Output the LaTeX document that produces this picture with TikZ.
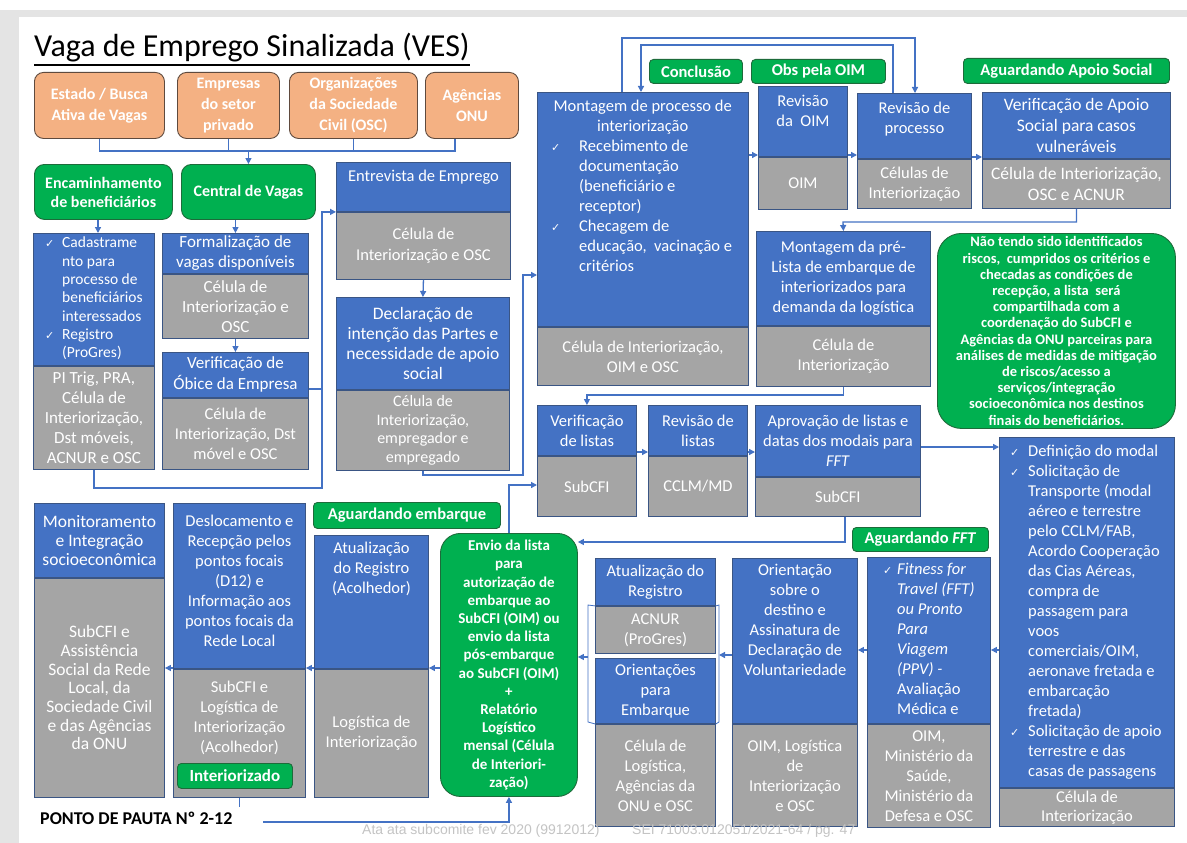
\documentclass[tikz,border=0pt]{standalone}
\usepackage{fontspec}
\setmainfont{Carlito}
\newfontfamily\ckfont{DejaVu Sans}
\newfontfamily\wmfont{Liberation Sans}
\usetikzlibrary{arrows.meta}
\definecolor{bblue}{HTML}{4472C4}
\definecolor{bgray}{HTML}{A5A5A5}
\definecolor{bord}{HTML}{3A5584}
\definecolor{gfill}{HTML}{00B050}
\definecolor{gbord}{HTML}{1D6B3A}
\definecolor{ofill}{HTML}{F4B183}
\definecolor{obord}{HTML}{5E4A3E}
\definecolor{lnc}{HTML}{4472C4}
\definecolor{marg}{HTML}{E4E4E4}
\definecolor{wm}{HTML}{C4C4C4}
\newcommand{\ck}[1]{\makebox[#1][l]{{\ckfont\fontsize{11}{11}\selectfont ✓}}}
\newcommand{\pbox}[6]{%
  \node[bbox, minimum width=#4, minimum height=#5] (#1) at (#2,#3) {};
  \node[gbox, minimum width=#4, minimum height=#6] (#1g) at (#1.south west) {};
}
\tikzset{
  bbox/.style={rectangle, draw=bord, line width=0.9pt, fill=bblue, inner sep=0pt, anchor=north west},
  gbox/.style={bbox, fill=bgray},
  tx/.style={text=white, align=center, inner sep=0pt, font=\fontsize{16.5}{20}\selectfont},
  tl/.style={tx, align=left, anchor=north west},
  lab/.style={rectangle, rounded corners=4pt, draw=gbord, line width=0.9pt, fill=gfill, text=white, align=center, inner sep=0pt, anchor=north west, font=\bfseries\fontsize{16.5}{19}\selectfont},
  org/.style={rectangle, rounded corners=9pt, draw=obord, line width=0.9pt, fill=ofill, text=white, align=center, inner sep=0pt, anchor=north west, font=\bfseries\fontsize{16}{21}\selectfont},
  conn/.style={draw=lnc, line width=1.3pt},
  arr/.style={conn, -{Triangle[length=6pt,width=6pt]}},
  wmk/.style={anchor=base west, inner sep=0pt, text=wm, font=\wmfont\fontsize{14}{14}\selectfont},
}
\begin{document}
\begin{tikzpicture}[x=1pt,y=-1pt]
\useasboundingbox (0,0) rectangle (1187,843);
\fill[white] (0,0) rectangle (1187,843);
\fill[marg] (0,10) rectangle (1187,17);
\fill[marg] (0,10) rectangle (19,843);

% title
\node[anchor=base west, inner sep=0pt, font=\fontsize{32}{38}\selectfont] (title) at (34,57) {Vaga de Emprego Sinalizada (VES)};
\draw[line width=1.7pt] ([yshift=-2pt]title.south west) -- ([yshift=-2pt]title.south east);

% orange sources
\node[org, minimum width=130, minimum height=66] (o1) at (34,72) {Estado / Busca\\Ativa de Vagas};
\node[org, minimum width=102, minimum height=66] (o2) at (177,72) {Empresas\\do setor\\privado};
\node[org, minimum width=128, minimum height=66] (o3) at (289,72) {Organizações\\da Sociedade\\Civil (OSC)};
\node[org, minimum width=93, minimum height=66] (o4) at (425,72) {Agências\\ONU};

% green headers
\node[lab, rounded corners=10pt, minimum width=138, minimum height=55, font=\bfseries\fontsize{16}{19}\selectfont] (enc) at (34,164) {Encaminhamento\\de beneficiários};
\node[lab, rounded corners=10pt, minimum width=134, minimum height=55, font=\bfseries\fontsize{16}{19}\selectfont] (cv) at (181,164) {Central de Vagas};
\node[lab, minimum width=93, minimum height=24] (lcon) at (649,59) {Conclusão};
\node[lab, minimum width=134, minimum height=24] (lobs) at (751,59) {Obs pela OIM};
\node[lab, minimum width=206, minimum height=25] (lapo) at (963,58) {Aguardando Apoio Social};
\node[lab, minimum width=136, minimum height=24] (lfft) at (852,527) {Aguardando \textit{FFT}};
\node[lab, minimum width=187, minimum height=26] (lemb) at (313,502) {Aguardando embarque};

% process boxes
\pbox{cad}{33}{233}{121}{132}{103}
\pbox{form}{162}{233}{146}{40}{64}
\pbox{obi}{162}{352}{146}{45}{71}
\pbox{ent}{336}{162}{174}{49}{67}
\pbox{dec}{336}{297}{173}{92}{80}
\pbox{mon}{537}{92}{211}{234}{58}
\pbox{roim}{758}{86}{89}{70}{52}
\pbox{rproc}{857}{93}{114}{65}{49}
\pbox{apo}{982}{92}{188}{66}{49}
\pbox{pre}{756}{231}{174}{94}{60}
\pbox{vlis}{537}{405}{99}{50}{60}
\pbox{rlis}{648}{405}{99}{50}{60}
\pbox{apr}{755}{405}{165}{71}{39}
\pbox{def}{999}{437}{175}{350}{38}
\pbox{fft}{867}{557}{123}{166}{103}
\pbox{ori}{732}{558}{125}{165}{102}
\pbox{atr}{595}{558}{120}{47}{47}
\pbox{oemb}{595}{658}{120}{65}{102}
\pbox{acol}{314}{535}{114}{133}{128}
\pbox{des}{173}{503}{132}{165}{128}
\pbox{moni}{34}{503}{130}{74}{219}

\node[lab, minimum width=115, minimum height=25, font=\bfseries\fontsize{17}{19}\selectfont] (lint) at (177,763) {Interiorizado};

% texts
\node[tl, font=\fontsize{15.5}{18.3}\selectfont] (cadt) at ([xshift=12pt,yshift=-4pt]cad.north west) {\ck{17pt}Cadastrame\\\hspace*{17pt}nto para\\\hspace*{17pt}processo de\\\hspace*{17pt}beneficiários\\\hspace*{17pt}interessados\\\ck{17pt}Registro\\\hspace*{17pt}(ProGres)};
\node[tx, font=\fontsize{17}{20}\selectfont] (cadgt) at (cadg.center) {PI Trig, PRA,\\Célula de\\Interiorização,\\Dst móveis,\\ACNUR e OSC};
\node[tx, font=\fontsize{17}{20}\selectfont] (formt) at (form.center) {Formalização de\\vagas disponíveis};
\node[tx, font=\fontsize{17}{20}\selectfont] (formgt) at (formg.center) {Célula de\\Interiorização e\\OSC};
\node[tx, font=\fontsize{17}{21}\selectfont] (obit) at (obi.center) {Verificação de\\Óbice da Empresa};
\node[tx] (obigt) at (obig.center) {Célula de\\Interiorização, Dst\\móvel e OSC};
\node[tx, anchor=north] (entt) at ([yshift=-8pt]ent.north) {Entrevista de Emprego};
\node[tx, font=\fontsize{16.5}{21}\selectfont] (entgt) at (entg.center) {Célula de\\Interiorização e OSC};
\node[tx, font=\fontsize{17.5}{20}\selectfont] (dect) at (dec.center) {Declaração de\\intenção das Partes e\\necessidade de apoio\\social};
\node[tx, font=\fontsize{16}{18.5}\selectfont] (decgt) at (decg.center) {Célula de\\Interiorização,\\empregador e\\empregado};
\node[tl] (mont) at ([yshift=-8pt]mon.north west) {\makebox[211pt][c]{Montagem de processo de}\\\makebox[211pt][c]{interiorização}\\\hspace*{14pt}\ck{28pt}Recebimento de\\\hspace*{42pt}documentação\\\hspace*{42pt}(beneficiário e\\\hspace*{42pt}receptor)\\\hspace*{14pt}\ck{28pt}Checagem de\\\hspace*{42pt}educação,\ \ vacinação e\\\hspace*{42pt}critérios};
\node[tx] (mongt) at (mong.center) {Célula de Interiorização,\\OIM e OSC};
\node[tx, anchor=north] (roimt) at ([yshift=-9pt]roim.north) {Revisão\\da\ \ OIM};
\node[tx] (roimgt) at (roimg.center) {OIM};
\node[tx, anchor=north] (rproct) at ([yshift=-9pt]rproc.north) {Revisão de\\processo};
\node[tx] (rprocgt) at (rprocg.center) {Células de\\Interiorização};
\node[tx, font=\fontsize{17.5}{21}\selectfont] (apot) at (apo.center) {Verificação de Apoio\\Social para casos\\vulneráveis};
\node[tx, font=\fontsize{17.5}{21}\selectfont] (apogt) at (apog.center) {Célula de Interiorização,\\OSC e ACNUR};
\node[tx] (pret) at (pre.center) {Montagem da pré-\\Lista de embarque de\\interiorizados para\\demanda da logística};
\node[tx] (pregt) at (preg.center) {Célula de\\Interiorização};
\node[tx] (vlist) at (vlis.center) {Verificação\\de listas};
\node[tx] (vlisgt) at (vlisg.center) {SubCFI};
\node[tx] (rlist) at (rlis.center) {Revisão de\\listas};
\node[tx] (rlisgt) at (rlisg.center) {CCLM/MD};
\node[tx] (aprt) at (apr.center) {Aprovação de listas e\\datas dos modais para\\\textit{FFT}};
\node[tx] (aprgt) at (aprg.center) {SubCFI};
\node[tl] (deft) at ([xshift=11pt,yshift=-8pt]def.north west) {\ck{18pt}Definição do modal\\\ck{18pt}Solicitação de\\\hspace*{18pt}Transporte (modal\\\hspace*{18pt}aéreo e terrestre\\\hspace*{18pt}pelo CCLM/FAB,\\\hspace*{18pt}Acordo Cooperação\\\hspace*{18pt}das Cias Aéreas,\\\hspace*{18pt}compra de\\\hspace*{18pt}passagem para\\\hspace*{18pt}voos\\\hspace*{18pt}comerciais/OIM,\\\hspace*{18pt}aeronave fretada e\\\hspace*{18pt}embarcação\\\hspace*{18pt}fretada)\\\ck{18pt}Solicitação de apoio\\\hspace*{18pt}terrestre e das\\\hspace*{18pt}casas de passagens};
\node[tx, font=\fontsize{16.5}{19}\selectfont] (defgt) at (defg.center) {Célula de\\Interiorização};
\node[tl] (fftt) at ([xshift=16pt,yshift=-6pt]fft.north west) {\ck{14pt}\textit{Fitness for}\\\hspace*{14pt}\textit{Travel (FFT)}\\\hspace*{14pt}\textit{ou Pronto}\\\hspace*{14pt}\textit{Para}\\\hspace*{14pt}\textit{Viagem}\\\hspace*{14pt}\textit{(PPV) -}\\\hspace*{14pt}Avaliação\\\hspace*{14pt}Médica e};
\node[tx] (fftgt) at (fftg.center) {OIM,\\Ministério da\\Saúde,\\Ministério da\\Defesa e OSC};
\node[tx, anchor=north] (orit) at ([yshift=-6pt]ori.north) {Orientação\\sobre o\\destino e\\Assinatura de\\Declaração de\\Voluntariedade};
\node[tx] (origt) at (orig.center) {OIM, Logística\\de\\Interiorização\\e OSC};
\node[tx] (atrt) at (atr.center) {Atualização do\\Registro};
\node[tx] (atrgt) at (atrg.center) {ACNUR\\(ProGres)};
\node[tx] (oembt) at (oemb.center) {Orientações\\para\\Embarque};
\node[tx] (oembgt) at (oembg.center) {Célula de\\Logística,\\Agências da\\ONU e OSC};
\node[tx, anchor=north] (acolt) at ([yshift=-7pt]acol.north) {Atualização\\do Registro\\(Acolhedor)};
\node[tx] (acolgt) at (acolg.center) {Logística de\\Interiorização};
\node[tx] (dest) at ([yshift=5pt]des.center) {Deslocamento e\\Recepção pelos\\pontos focais\\(D12) e\\Informação aos\\pontos focais da\\Rede Local};
\node[tx, anchor=north] (desgt) at ([yshift=-12pt]desg.north) {SubCFI e\\Logística de\\Interiorização\\(Acolhedor)};
\node[tx, font=\fontsize{17.5}{18.7}\selectfont] (monit) at (moni.center) {Monitoramento\\e Integração\\socioeconômica};
\node[tx, font=\fontsize{17.5}{18.7}\selectfont] (monigt) at (monig.center) {SubCFI e\\Assistência\\Social da Rede\\Local, da\\Sociedade Civil\\e das Agências\\da ONU};

% big green notes
\node[lab, rounded corners=24pt, minimum width=238, minimum height=195, font=\bfseries\fontsize{14.5}{16.2}\selectfont] (nota) at (937,233) {Não tendo sido identificados\\riscos,\ \ cumpridos os critérios e\\checadas as condições de\\recepção, a lista\ \ será\\compartilhada com a\\coordenação do SubCFI e\\Agências da ONU parceiras para\\análises de medidas de mitigação\\de riscos/acesso a\\serviços/integração\\socioeconômica nos destinos\\finais do beneficiários.};
\node[lab, rounded corners=20pt, minimum width=137, minimum height=263, font=\bfseries\fontsize{15}{18.2}\selectfont] (env) at (440,533) {Envio da lista\\para\\autorização de\\embarque ao\\SubCFI (OIM) ou\\envio da lista\\pós-embarque\\ao SubCFI (OIM)\\+\\Relatório\\Logístico\\mensal (Célula\\de Interiori-\\zação)};

% connectors: sources
\draw[conn] (o1.south) |- (455,151) -- (455,151 |- o4.south);
\draw[conn] (o2.south) -- (o2.south |- 0,151);
\draw[conn] (o3.south) -- (o3.south |- 0,151);
\draw[arr] (cv.north |- 0,151) -- (cv.north);
\draw[arr] (enc.south -| 98,0) -- (cad.north -| 98,0);
\draw[arr] (form.north |- cv.south) -- (form.north);
\draw[arr] (formg.south) -- (obi.north);
\draw[arr] (entg.south) -- (dec.north);
\draw[arr] (cadg.south) |- (322,488) -- (entg.north west -| 322,0) -- (entg.north west);
\coordinate (obx) at ([yshift=9pt]obi.south east);
\draw[conn] (obx) -- (obx -| 322,0);
\draw[arr] (decg.south) |- (523,475) -- (523,275) -- (mon.west |- 0,275);
% top loops
\draw[arr] (mon.north -| 622,0) -- (622,38) -- (915,38) -- (rproc.north -| 915,0);
\draw[arr] (rproc.north -| 893,0) -- (893,45) -- (641,45) -- (mon.north -| 641,0);
\draw[arr] (mon.east |- 0,155) -- (roim.west |- 0,155);
\draw[arr] (roim.east |- 0,155) -- (rproc.west |- 0,155);
\draw[arr] (rproc.east |- 0,157) -- (apo.west |- 0,157);
\draw[arr] (apog.south) |- (843,222) -- (pre.north);
\draw[arr] (preg.south) |- (vlis.north |- 0,395) -- (vlis.north);
\draw[arr] (vlis.east |- 0,452) -- (rlis.west |- 0,452);
\draw[arr] (rlis.east |- 0,452) -- (apr.west |- 0,452);
\draw[arr] (apr.east |- 0,447) -- (def.west |- 0,447);
\draw[arr] (aprg.south -| 845,0) -- (845,542) -- (env.east |- 0,542);
\draw[arr] (def.west |- 0,650) -- (fft.east |- 0,650);
\draw[arr] (fft.west |- 0,650) -- (ori.east |- 0,650);
% bracket group
\draw[draw=lnc, line width=0.8pt] (atrg.north west) -- (588,605) -- (588,722) -- (oembg.north west);
\draw[draw=lnc, line width=0.8pt] (atrg.north east) -- (719,605) -- (719,722) -- (oembg.north east);
\coordinate (grpR) at (719,655);
\coordinate (grpL) at (588,657);
\draw[arr] (ori.west |- 0,655) -- (grpR);
\draw[arr] (grpL) -- (env.east |- 0,657);
\draw[arr] (env.north) |- (vlis.west |- 0,485);
\draw[arr] (env.west |- 0,668) -- (acol.east |- 0,668);
\draw[arr] (acol.west |- 0,668) -- (des.east |- 0,668);
\draw[arr] (des.west |- 0,668) -- (moni.east |- 0,668);
\draw[conn] (desg.south) -- ++(0,9);
\coordinate (pp) at (263,822);
\draw[arr] (pp) -| (env.south);

\node[anchor=base west, inner sep=0pt, font=\bfseries\fontsize{18}{18}\selectfont] (ponto) at (40,824) {PONTO DE PAUTA Nº 2-12};

% watermark
\node[wmk] (wm1) at (362,834) {Ata ata subcomite fev 2020 (9912012)};
\node[wmk] (wm2) at (632,834) {SEI 71003.012051/2021-64 / pg. 47};
\end{tikzpicture}
\end{document}
